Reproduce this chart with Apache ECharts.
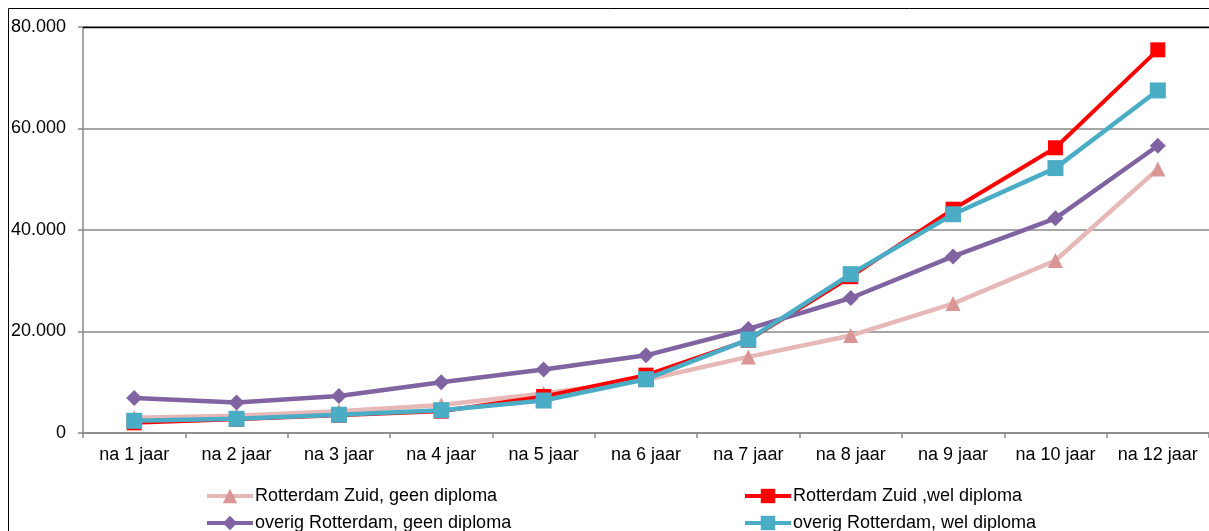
<!DOCTYPE html>
<html><head><meta charset="utf-8">
<script src="https://cdn.jsdelivr.net/npm/echarts@6/dist/echarts.min.js"></script>
<style>html,body{margin:0;padding:0;background:#fff}#c{width:1209px;height:531px}</style>
</head><body><div id="c"></div>
<script>
const categories = ['na 1 jaar','na 2 jaar','na 3 jaar','na 4 jaar','na 5 jaar','na 6 jaar','na 7 jaar','na 8 jaar','na 9 jaar','na 10 jaar','na 12 jaar'];
const zuidGeen = [3000, 3400, 4300, 5500, 7800, 10500, 15000, 19200, 25500, 34000, 52000];
const zuidWel = [2000, 2700, 3500, 4300, 7200, 11400, 18300, 30800, 44100, 56200, 75500];
const overigGeen = [6900, 6000, 7300, 10000, 12500, 15300, 20500, 26600, 34800, 42300, 56600];
const overigWel = [2400, 2800, 3600, 4500, 6400, 10600, 18400, 31300, 43100, 52200, 67500];
const names = ['Rotterdam Zuid, geen diploma','Rotterdam Zuid ,wel diploma','overig Rotterdam, geen diploma','overig Rotterdam, wel diploma'];
const yTicks = [0, 20000, 40000, 60000, 80000];

const chart = echarts.init(document.getElementById('c'));
const fmt = v => v === 0 ? '0' : (v/1000).toFixed(0) + '.000';
const legendPos = [[200, 482], [738, 482], [200, 509], [738, 509]];
const mkLegend = (i) => ({
  data: [names[i]], left: legendPos[i][0], top: legendPos[i][1], itemWidth: 46, itemHeight: 18,
  lineStyle: {width: 4},
  textStyle: {fontSize: 18, color: '#000', padding: [0,0,0,-3]}
});
chart.setOption({
  animation: false,
  textStyle: {fontFamily: 'Liberation Sans, Arial, sans-serif'},
  graphic: [
    {type:'rect', shape:{x:8.5, y:8.5, width:1300, height:600}, style:{fill:null, stroke:'#000', lineWidth:1}, z:0},
    {type:'line', shape:{x1:83, y1:27.5, x2:1209, y2:27.5}, style:{stroke:'#000', lineWidth:1.5}, z:10}
  ],
  grid: {left: 83, top: 27, right: 0, bottom: 98},
  xAxis: {
    type: 'category', data: categories, boundaryGap: true,
    axisLine: {lineStyle: {color: '#888', width: 1.5}},
    axisTick: {show: true, length: 5, interval: 0, alignWithLabel: false, lineStyle: {color: '#888', width: 1.5}},
    axisLabel: {color: '#000', fontSize: 18, margin: 13, interval: 0, hideOverlap: false}
  },
  yAxis: {
    type: 'value', min: yTicks[0], max: yTicks[yTicks.length-1], interval: 20000,
    axisLine: {show: true, lineStyle: {color: '#888', width: 1.5}},
    axisTick: {show: true, length: 5, lineStyle: {color: '#888', width: 1.5}},
    axisLabel: {color: '#000', fontSize: 18, margin: 17, formatter: fmt, lineHeight: 24, verticalAlign: 'middle'},
    splitLine: {lineStyle: {color: '#888', width: 1.5}}
  },
  legend: [mkLegend(0), mkLegend(1), mkLegend(2), mkLegend(3)],
  series: [
    {name: names[0], type: 'line', data: zuidGeen, symbol: 'triangle', symbolSize: 15,
     lineStyle: {color: '#E6B9B8', width: 4.5}, itemStyle: {color: '#D99694'}, z: 2},
    {name: names[1], type: 'line', data: zuidWel, symbol: 'rect', symbolSize: 15,
     lineStyle: {color: '#FF0000', width: 4}, itemStyle: {color: '#FF0000'}, z: 3},
    {name: names[2], type: 'line', data: overigGeen, symbol: 'diamond', symbolSize: 16,
     lineStyle: {color: '#8064A2', width: 4.5}, itemStyle: {color: '#8064A2'}, z: 4},
    {name: names[3], type: 'line', data: overigWel, symbol: 'rect', symbolSize: 16,
     lineStyle: {color: '#4BACC6', width: 4.5}, itemStyle: {color: '#4BACC6'}, z: 5}
  ]
});
</script></body></html>
